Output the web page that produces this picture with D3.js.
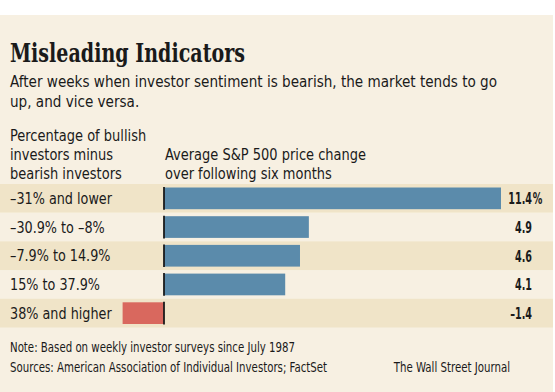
<!DOCTYPE html>
<html>
<head>
<meta charset="utf-8">
<script src="https://cdn.jsdelivr.net/npm/d3@7"></script>
<style>
body { margin: 0; background: #fff; }
text { font-family: "DejaVu Sans Condensed", "DejaVu Sans", sans-serif; fill: #1a1a1a; }
.title { font-family: "DejaVu Serif", serif; font-weight: bold; font-size: 26px; }
.sub { font-size: 16.5px; }
.hdr { font-size: 15px; }
.lab { font-size: 15.5px; }
.val { font-size: 16.5px; font-weight: bold; }
.note { font-size: 13.5px; }
</style>
</head>
<body>
<div id="chart"></div>
<script>
// data
var categories = ["\u201331% and lower", "\u201330.9% to \u20138%", "\u20137.9% to 14.9%", "15% to 37.9%", "38% and higher"];
var values = [11.4, 4.9, 4.6, 4.1, -1.4];
var valueLabels = ["11.4", "4.9", "4.6", "4.1", "\u20131.4"];
var valueUnits = ["%", "", "", "", ""];

var W = 555, H = 392;
var svg = d3.select("#chart").append("svg")
  .attr("width", W).attr("height", H);

// squeeze a class of texts so the reference line gets the target width (narrow font look)
function fitClass(cls, refNode, target) {
  var k = target / refNode.getComputedTextLength();
  svg.selectAll("text." + cls).each(function() {
    var w = this.getComputedTextLength();
    if (w > 0) d3.select(this).attr("textLength", w * k).attr("lengthAdjust", "spacingAndGlyphs");
  });
}

// beige panel
svg.append("rect").attr("x", 0).attr("y", 15).attr("width", 553).attr("height", H - 15)
  .attr("fill", "#f7f0e2");

var title = svg.append("text").attr("class", "title").attr("x", 10).attr("y", 62).text("Misleading Indicators");
var sub1 = svg.append("text").attr("class", "sub").attr("x", 10).attr("y", 87)
  .text("After weeks when investor sentiment is bearish, the market tends to go");
svg.append("text").attr("class", "sub").attr("x", 10).attr("y", 107).text("up, and vice versa.");

var hdrL = ["Percentage of bullish", "investors minus", "bearish investors"];
hdrL.forEach(function(t, i) {
  svg.append("text").attr("class", "hdr").attr("x", 10).attr("y", 141 + i * 19).text(t);
});
var hdrR = ["Average S&P 500 price change", "over following six months"];
var hdrRef;
hdrR.forEach(function(t, i) {
  var n = svg.append("text").attr("class", "hdr").attr("x", 165).attr("y", 160 + i * 19).text(t);
  if (i === 0) hdrRef = n;
});

var y = d3.scaleBand().domain(categories).range([184, 327.5]).paddingInner(0).paddingOuter(0);
var x = d3.scaleLinear().domain([0, 11.4]).range([164, 501]);

var rows = svg.selectAll("g.row").data(categories).enter().append("g").attr("class", "row");

rows.append("rect")
  .attr("x", 0).attr("width", 553)
  .attr("y", function(d) { return y(d); })
  .attr("height", y.bandwidth())
  .attr("fill", function(d, i) { return i % 2 === 0 ? "#f0e4c8" : "#f7f0e2"; });

rows.append("rect")
  .attr("x", function(d, i) { return x(Math.min(0, values[i])); })
  .attr("width", function(d, i) { return Math.abs(x(values[i]) - x(0)); })
  .attr("y", function(d) { return y(d) + 3.5; })
  .attr("height", y.bandwidth() - 7)
  .attr("fill", function(d, i) { return values[i] >= 0 ? "#5b8bab" : "#d9685e"; });

rows.append("line")
  .attr("x1", x(0)).attr("x2", x(0))
  .attr("y1", function(d) { return y(d) + 3; })
  .attr("y2", function(d) { return y(d) + y.bandwidth() - 3; })
  .attr("stroke", "#1a1a1a").attr("stroke-width", 1.8);

rows.append("text").attr("class", "lab")
  .attr("x", 10)
  .attr("y", function(d) { return y(d) + y.bandwidth() / 2 + 5.5; })
  .text(function(d) { return d; });

// value labels: numbers right-aligned, unit hangs to the right; condensed with scaleX
var vg = rows.append("g")
  .attr("transform", function(d) { return "translate(532," + (y(d) + y.bandwidth() / 2 + 6) + ")"; });
vg.append("text").attr("class", "val num").attr("text-anchor", "end")
  .text(function(d, i) { return valueLabels[i]; });
vg.append("text").attr("class", "val").attr("x", 1)
  .text(function(d, i) { return valueUnits[i]; });
var vk = 17 / vg.filter(function(d, i) { return i === 1; }).select("text.num").node().getComputedTextLength();
vg.attr("transform", function(d) {
  return "translate(532," + (y(d) + y.bandwidth() / 2 + 6) + ") scale(" + vk + ",1)";
});

var note1 = svg.append("text").attr("class", "note").attr("x", 10).attr("y", 352)
  .text("Note: Based on weekly investor surveys since July 1987");
svg.append("text").attr("class", "note").attr("x", 10).attr("y", 372)
  .text("Sources: American Association of Individual Investors; FactSet");
svg.append("text").attr("class", "note").attr("x", 510).attr("y", 372).attr("text-anchor", "end")
  .text("The Wall Street Journal");

fitClass("title", title.node(), 235);
fitClass("sub", sub1.node(), 487);
fitClass("hdr", hdrRef.node(), 201);
fitClass("lab", rows.select("text.lab").node(), 102);
fitClass("note", note1.node(), 285);
</script>
</body>
</html>
